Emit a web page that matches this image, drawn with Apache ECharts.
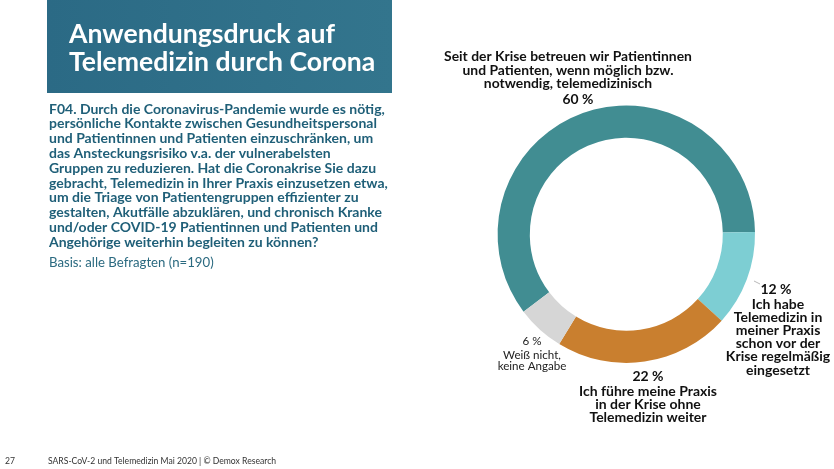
<!DOCTYPE html>
<html>
<head>
<meta charset="utf-8">
<style>html,body{margin:0;background:#fff}#chart{width:834px;height:469px}</style>
<script src="https://cdn.jsdelivr.net/npm/echarts@6/dist/echarts.min.js"></script>
</head>
<body>
<div id="chart"></div>
<script>
var categories = ['Seit der Krise telemedizinisch', 'Schon vor der Krise', 'Ohne Telemedizin', 'Weiß nicht, keine Angabe'];
var values = [60, 12, 22, 6];
var colors = ['#418d92', '#7dced3', '#c97f2f', '#d6d6d6'];

var titleLines = ['Anwendungsdruck auf', 'Telemedizin durch Corona'];
var questionLines = [
  'F04. Durch die Coronavirus-Pandemie wurde es nötig,',
  'persönliche Kontakte zwischen Gesundheitspersonal',
  'und Patientinnen und Patienten einzuschränken, um',
  'das Ansteckungsrisiko v.a. der vulnerabelsten',
  'Gruppen zu reduzieren. Hat die Coronakrise Sie dazu',
  'gebracht, Telemedizin in Ihrer Praxis einzusetzen etwa,',
  'um die Triage von Patientengruppen effizienter zu',
  'gestalten, Akutfälle abzuklären, und chronisch Kranke',
  'und/oder COVID-19 Patientinnen und Patienten und',
  'Angehörige weiterhin begleiten zu können?'
];
var basis = 'Basis: alle Befragten (n=190)';
var footer = 'SARS-CoV-2 und Telemedizin Mai 2020 | © Demox Research';
var pageNo = '27';

var label60 = ['Seit der Krise betreuen wir Patientinnen', 'und Patienten, wenn möglich bzw.', 'notwendig, telemedizinisch'];
var label12 = ['Ich habe', 'Telemedizin in', 'meiner Praxis', 'schon vor der', 'Krise regelmäßig', 'eingesetzt'];
var label22 = ['Ich führe meine Praxis', 'in der Krise ohne', 'Telemedizin weiter'];
var label6 = ['Weiß nicht,', 'keine Angabe'];

var font = 'Lato';
var graphics = [];

function addText(str, x, y, size, weight, color, align) {
  graphics.push({
    type: 'text', x: x, y: y,
    style: { text: str, fontFamily: font, fontSize: size, fontWeight: weight, fill: color, align: align || 'left', verticalAlign: 'middle' }
  });
}

// header box
graphics.push({
  type: 'rect',
  shape: { x: 47, y: 0, width: 345, height: 93 },
  style: { fill: new echarts.graphic.LinearGradient(0, 0, 1, 0, [{ offset: 0, color: '#2b6a85' }, { offset: 1, color: '#33758d' }]) }
});
titleLines.forEach(function (t, i) { addText(t, 69, 34 + i * 28.5, 26.6, 700, '#ffffff'); });

questionLines.forEach(function (t, i) { addText(t, 49, 109 + i * 14.8, 14, 700, '#1f5f78'); });
addText(basis, 49, 263, 13.2, 400, '#2b6a80');

label60.forEach(function (t, i) { addText(t, 568, 57 + i * 13.5, 13.9, 700, '#111', 'center'); });
addText(values[0] + ' %', 578, 100, 13.9, 700, '#111', 'center');

addText(values[1] + ' %', 776, 289, 14, 700, '#111', 'center');
label12.forEach(function (t, i) { addText(t, 778, 304 + i * 13.2, 14, 700, '#111', 'center'); });

addText(values[2] + ' %', 648, 376, 14, 700, '#111', 'center');
label22.forEach(function (t, i) { addText(t, 648, 391 + i * 13.2, 14, 700, '#111', 'center'); });

addText(values[3] + ' %', 532, 341, 11.6, 400, '#222', 'center');
label6.forEach(function (t, i) { addText(t, 532, 355 + i * 11.5, 11.6, 400, '#222', 'center'); });

// small leader line next to the 12 % label
graphics.push({
  type: 'line',
  shape: { x1: 754, y1: 281, x2: 760, y2: 284 },
  style: { stroke: '#999', lineWidth: 0.7 }
});

addText(pageNo, 5, 461, 8.6, 400, '#333');
addText(footer, 48, 461, 8.6, 400, '#333');

var chart = echarts.init(document.getElementById('chart'), null, { renderer: 'canvas' });
chart.setOption({
  animation: false,
  backgroundColor: '#ffffff',
  series: [{
    type: 'pie',
    center: [626.3, 234.2],
    radius: [96.5, 128.7],
    startAngle: 217,
    clockwise: true,
    label: { show: false },
    labelLine: { show: false },
    silent: true,
    data: categories.map(function (name, i) {
      return { name: name, value: values[i], itemStyle: { color: colors[i] } };
    })
  }],
  graphic: { elements: graphics }
});
</script>
</body>
</html>
